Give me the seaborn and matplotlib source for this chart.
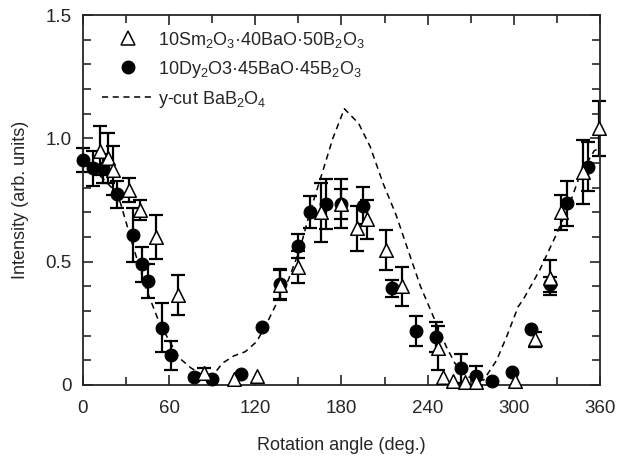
import numpy as np
import pandas as pd
import matplotlib
matplotlib.use('Agg')
import matplotlib.pyplot as plt
from matplotlib.lines import Line2D
from matplotlib.ticker import MultipleLocator, FixedLocator, FixedFormatter
import seaborn as sns

# 10Sm2O3-40BaO-50B2O3 (open triangles)
sm_angle = [12, 17.5, 21, 32, 40, 51, 66, 84, 105, 121, 137, 150, 166, 180, 190.5,
            197.5, 211, 222, 247, 250.5, 258, 266, 274, 301, 315, 325, 333, 348, 359.5]
sm_int = [0.95, 0.92, 0.87, 0.79, 0.71, 0.60, 0.365, 0.05, 0.023, 0.035, 0.405, 0.477,
          0.70, 0.735, 0.635, 0.672, 0.547, 0.40, 0.151, 0.032, 0.016, 0.011, 0.014,
          0.016, 0.186, 0.435, 0.70, 0.865, 1.04]
sm_err = [0.10, 0.10, 0.10, 0.05, 0.04, 0.09, 0.08, 0.02, 0, 0, 0.06, 0.065, 0.12, 0.10,
          0.09, 0.08, 0.08, 0.08, 0.09, 0, 0, 0, 0, 0, 0.03, 0.07, 0.07, 0.13, 0.11]

# 10Dy2O3-45BaO-45B2O3 (filled circles)
dy_angle = [0, 7, 14, 24, 35, 41, 45, 55, 61, 77, 90, 110, 125, 137, 150, 158, 169, 180,
            195, 215, 232, 246, 263, 274, 285, 299, 312, 325, 337, 352]
dy_int = [0.912, 0.878, 0.878, 0.773, 0.608, 0.489, 0.421, 0.232, 0.12, 0.031, 0.023,
          0.044, 0.235, 0.41, 0.563, 0.70, 0.734, 0.734, 0.726, 0.392, 0.219, 0.195,
          0.067, 0.036, 0.016, 0.054, 0.227, 0.408, 0.736, 0.885]
dy_err = [0.05, 0.07, 0.06, 0.055, 0.11, 0.07, 0.07, 0.10, 0.06, 0, 0, 0, 0, 0.06, 0.05,
          0.065, 0.10, 0.06, 0.075, 0.035, 0.06, 0.06, 0.06, 0.04, 0, 0, 0, 0.03, 0.09, 0.10]

# y-cut BaB2O4 reference curve
ref_angle = [0, 10, 20, 26, 35, 44, 52, 59, 67, 75, 82, 88, 92, 97, 105, 113, 121, 128,
             136, 143, 151, 158, 165, 174, 182, 192, 200, 209, 218, 225, 235, 244, 253,
             259, 267, 279, 288, 295, 303, 307, 318, 330, 339, 346, 352, 356, 360]
ref_int = [0.90, 0.86, 0.80, 0.74, 0.56, 0.39, 0.27, 0.19, 0.11, 0.07, 0.045, 0.035,
           0.05, 0.088, 0.118, 0.135, 0.176, 0.25, 0.345, 0.426, 0.55, 0.70, 0.83, 1.0,
           1.12, 1.06, 0.966, 0.817, 0.69, 0.57, 0.40, 0.277, 0.155, 0.088, 0.034, 0.02,
           0.10, 0.196, 0.317, 0.351, 0.466, 0.615, 0.736, 0.85, 0.91, 0.95, 0.96]

lab_sm = '10Sm$_2$O$_3$·40BaO·50B$_2$O$_3$'
lab_dy = '10Dy$_2$O3·45BaO·45B$_2$O$_3$'
lab_ref = 'y-cut BaB$_2$O$_4$'


def main():
    sns.set_style('ticks')
    plt.rcParams['font.family'] = ['Liberation Sans', 'DejaVu Sans']
    plt.rcParams['mathtext.fontset'] = 'custom'
    plt.rcParams['mathtext.rm'] = 'Liberation Sans'
    plt.rcParams['mathtext.it'] = 'Liberation Sans:italic'
    plt.rcParams['font.size'] = 13

    fig = plt.figure(figsize=(6.22, 4.58), dpi=100)
    ax = fig.add_axes([0.1334, 0.1594, 0.8312, 0.8078])

    ref = pd.DataFrame({'angle': ref_angle, 'intensity': ref_int})
    sm = pd.DataFrame({'angle': sm_angle, 'intensity': sm_int, 'err': sm_err})
    dy = pd.DataFrame({'angle': dy_angle, 'intensity': dy_int, 'err': dy_err})

    sns.lineplot(data=ref, x='angle', y='intensity', ax=ax, color='black',
                 linestyle=(0, (4, 3)), linewidth=1.1, sort=False, zorder=1)

    for d in (dy, sm):
        e = d[d['err'] > 0]
        eb = ax.errorbar(e['angle'], e['intensity'], yerr=e['err'], fmt='none',
                         ecolor='black', elinewidth=1.6, capsize=5, capthick=1.6, zorder=2)
        for art in eb.lines[1] + eb.lines[2]:
            art.set_clip_on(False)

    pts = sns.scatterplot(data=dy, x='angle', y='intensity', ax=ax, marker='o', s=85,
                          color='black', edgecolor='black', linewidth=0.8, zorder=3)
    sns.scatterplot(data=sm, x='angle', y='intensity', ax=ax, marker='^', s=95,
                    color='white', edgecolor='black', linewidth=1.1, zorder=4)
    for coll in ax.collections:
        coll.set_clip_on(False)

    ax.set_xlim(0, 360)
    ax.set_ylim(0, 1.5)
    ax.xaxis.set_major_locator(MultipleLocator(60))
    ax.xaxis.set_minor_locator(MultipleLocator(30))
    ax.yaxis.set_major_locator(FixedLocator([0, 0.5, 1.0, 1.5]))
    ax.yaxis.set_major_formatter(FixedFormatter(['0', '0.5', '1.0', '1.5']))
    ax.yaxis.set_minor_locator(MultipleLocator(0.1))
    ax.tick_params(which='both', direction='in', top=True, right=True,
                   width=1.2, labelsize=13.5)
    ax.tick_params(axis='x', pad=11)
    ax.tick_params(axis='y', pad=8)
    ax.tick_params(which='major', length=7)
    ax.tick_params(which='minor', length=5.5)
    for sp in ax.spines.values():
        sp.set_linewidth(1.3)
        sp.set_visible(True)

    ax.set_xlabel('Rotation angle (deg.)', fontsize=13, labelpad=14)
    ax.set_ylabel('Intensity (arb. units)', fontsize=13, labelpad=12)

    handles = [
        Line2D([], [], linestyle='none', marker='^', markersize=9.5,
               markerfacecolor='white', markeredgecolor='black', markeredgewidth=1.1),
        Line2D([], [], linestyle='none', marker='o', markersize=9,
               markerfacecolor='black', markeredgecolor='black'),
        Line2D([], [], color='black', linestyle=(0, (4, 3)), linewidth=1.1),
    ]
    ax.legend(handles, [lab_sm, lab_dy, lab_ref], loc='upper left',
              bbox_to_anchor=(0.015, 0.99), frameon=False, fontsize=13,
              handlelength=2.9, handletextpad=0.25, labelspacing=0.5,
              borderaxespad=0.2)

    fig.savefig('out.png', dpi=100)


if __name__ == '__main__':
    main()
